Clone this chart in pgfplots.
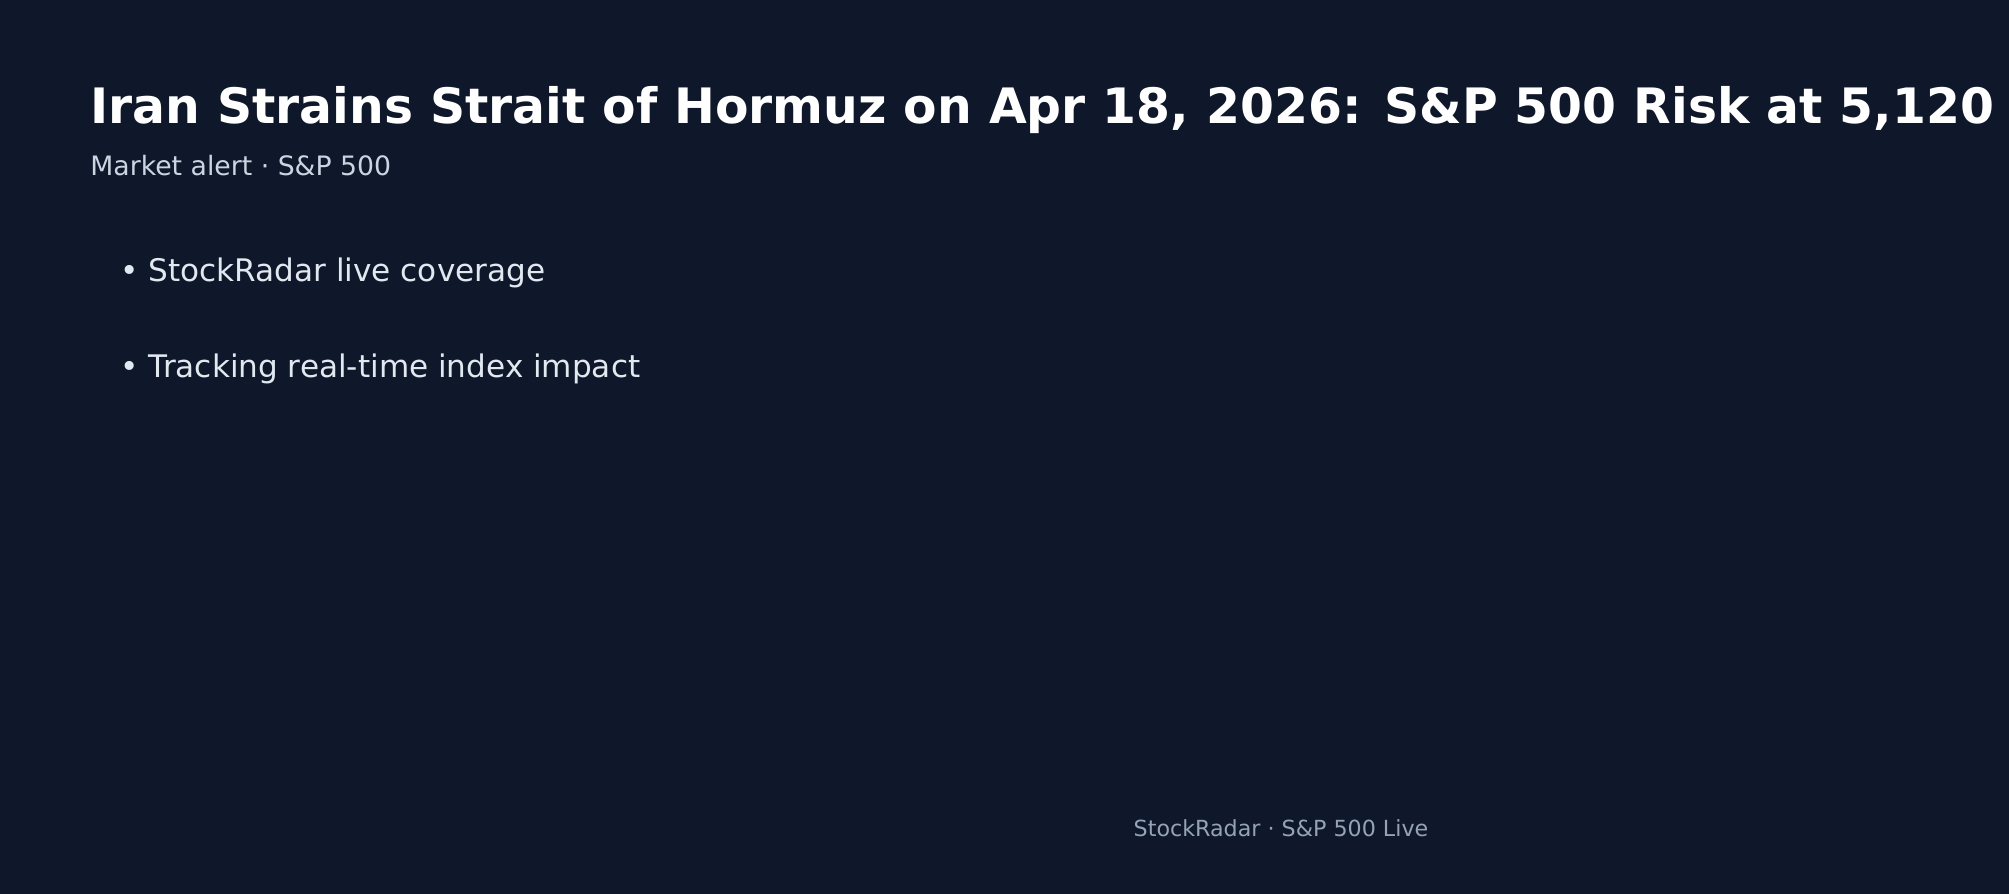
\documentclass[border=0pt]{standalone}
\usepackage{fontspec}
\setmainfont{DejaVu Sans}
\usepackage{pgfplots}
\pgfplotsset{compat=1.18}

\definecolor{bg}{HTML}{0F172A}
\definecolor{subtxt}{HTML}{CBD5E1}
\definecolor{bullettxt}{HTML}{E2E8F0}
\definecolor{foot}{HTML}{94A3B8}

\begin{document}
\begin{tikzpicture}
\begin{axis}[
    width=1004.5pt, height=447pt,
    scale only axis,
    hide axis,
    clip=false,
    xmin=0, xmax=2009,
    ymin=0, ymax=894,
    y dir=reverse,
  ]
  % card background
  \fill[bg] (rel axis cs:0,0) rectangle (rel axis cs:1,1);

  % title and subtitle
  \node[anchor=base west, inner sep=0, text=white,
        font=\bfseries\fontsize{24.4}{29}\selectfont]
    at (axis cs:90,123.5) {Iran Strains Strait of Hormuz on Apr 18, 2026: S\&P 500 Risk at 5,120};
  \node[anchor=base west, inner sep=0, text=subtxt,
        font=\fontsize{13.35}{16}\selectfont]
    at (axis cs:90,175.5) {Market alert · S\&P 500};

  % bullet points
  \node[anchor=base west, inner sep=0, text=bullettxt,
        font=\fontsize{15.55}{19}\selectfont]
    at (axis cs:120,281.5) {• StockRadar live coverage};
  \node[anchor=base west, inner sep=0, text=bullettxt,
        font=\fontsize{15.55}{19}\selectfont]
    at (axis cs:120,377) {• Tracking real-time index impact};

  % footer
  \node[anchor=base, inner sep=0, text=foot,
        font=\fontsize{11.1}{14}\selectfont]
    at (axis cs:1281,836.5) {StockRadar · S\&P 500 Live};
\end{axis}
\end{tikzpicture}
\end{document}
